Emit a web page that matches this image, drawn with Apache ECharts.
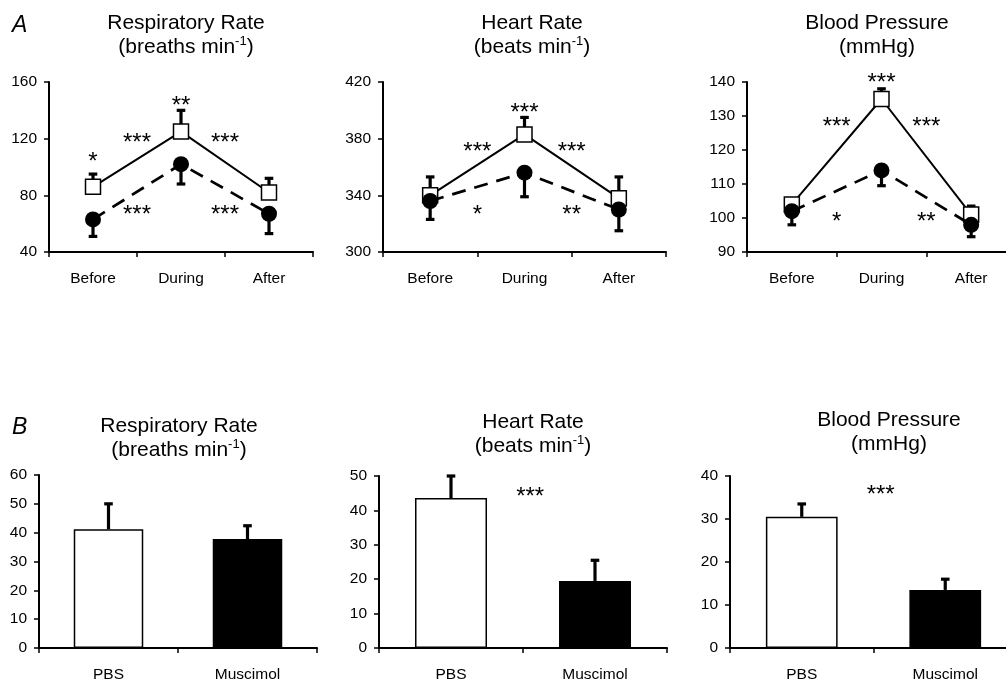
<!DOCTYPE html>
<html><head><meta charset="utf-8">
<script src="https://cdn.jsdelivr.net/npm/echarts@6/dist/echarts.min.js"></script>
<style>html,body{margin:0;padding:0;background:#fff}#c{width:1006px;height:684px}</style>
</head><body><div id="c"></div><script>
const FONT = '"Liberation Sans", Arial, Helvetica, sans-serif';

// ---------- categories ----------
const phases = ['Before', 'During', 'After'];
const groups = ['PBS', 'Muscimol'];

// ---------- Panel A: time course (mean, SEM) ----------
const respPBS = [86, 125, 82];      const respPBSErr = [9, 15, 10];
const respMus = [63, 102, 67];      const respMusErr = [12, 14, 14];
const hrPBS = [340, 383, 338];      const hrPBSErr = [13, 12, 15];
const hrMus = [336, 356, 330];      const hrMusErr = [13, 17, 15];
const bpPBS = [104, 135, 101];      const bpPBSErr = [1, 3, 2.5];
const bpMus = [102, 114, 98];       const bpMusErr = [4, 4.5, 3.5];

const respTicksA = [40, 80, 120, 160];
const hrTicksA = [300, 340, 380, 420];
const bpTicksA = [90, 100, 110, 120, 130, 140];

// significance marks (x in category units, y in data units)
const respStarText = ['*', '**', '***', '***', '***', '***'];
const respStarX = [0, 1, 0.5, 1.5, 0.5, 1.5];
const respStarY = [107, 146.6, 120.5, 120.5, 69.7, 69.7];
const hrStarText = ['***', '***', '***', '*', '**'];
const hrStarX = [1, 0.5, 1.5, 0.5, 1.5];
const hrStarY = [401.7, 374, 374, 329.7, 329.7];
const bpStarText = ['***', '***', '***', '*', '**'];
const bpStarX = [1, 0.5, 1.5, 0.5, 1.5];
const bpStarY = [141.2, 128.2, 128.2, 100.3, 100.3];

// ---------- Panel B: change (mean, SEM) ----------
const respChange = [41.2, 37.8];    const respChangeErr = [8.8, 4.6];
const hrChange = [43.6, 19.5];      const hrChangeErr = [6.4, 6.0];
const bpChange = [30.5, 13.5];      const bpChangeErr = [3.0, 2.5];

const respTicksB = [0, 10, 20, 30, 40, 50, 60];
const hrTicksB = [0, 10, 20, 30, 40, 50];
const bpTicksB = [0, 10, 20, 30, 40];

const hrBStarText = ['***'];  const hrBStarX = [0.55]; const hrBStarY = [45.3];
const bpBStarText = ['***'];  const bpBStarX = [0.55]; const bpBStarY = [36.7];

// ---------- styles ----------
const barFill = ['#ffffff', '#000000'];

const grids = [
  {left: 49, top: 82, width: 264, height: 170},
  {left: 383, top: 82, width: 283, height: 170},
  {left: 747, top: 82, width: 269, height: 170},
  {left: 39, top: 475, width: 278, height: 173},
  {left: 379, top: 476, width: 288, height: 172},
  {left: 730, top: 476, width: 287, height: 172}
].map(g => Object.assign({containLabel: false, outerBoundsMode: 'none'}, g));

function xAxisFor(i, cats) {
  return {
    type: 'category', gridIndex: i, data: cats,
    axisLine: {onZero: false, lineStyle: {color: '#000', width: 2}},
    axisTick: {show: true, length: 5, lineStyle: {color: '#000', width: 1.5}},
    axisLabel: {color: '#000', fontSize: 15.5, fontFamily: FONT, margin: 19, interval: 0},
    splitLine: {show: false}
  };
}
function yAxisFor(i, ticks) {
  return {
    type: 'value', gridIndex: i, min: ticks[0], max: ticks[ticks.length - 1],
    axisLine: {show: true, lineStyle: {color: '#000', width: 2}},
    axisTick: {show: true, length: 5, customValues: ticks, lineStyle: {color: '#000', width: 1.5}},
    axisLabel: {color: '#000', fontSize: 15.5, fontFamily: FONT, margin: 12, customValues: ticks},
    splitLine: {show: false}
  };
}

function errSeries(i, vals, errs, dir) {
  return {
    type: 'custom', xAxisIndex: i, yAxisIndex: i, z: 1, silent: true,
    data: vals.map((v, k) => [k, v, errs[k]]),
    renderItem: function (params, api) {
      const x = api.value(0), v = api.value(1), e = api.value(2);
      const p0 = api.coord([x, v]);
      const p1 = api.coord([x, v + dir * e]);
      const cap = 4.3;
      return {type: 'group', children: [
        {type: 'line', shape: {x1: p0[0], y1: p0[1], x2: p1[0], y2: p1[1]}, style: {stroke: '#000', lineWidth: 3.2}},
        {type: 'line', shape: {x1: p1[0] - cap, y1: p1[1], x2: p1[0] + cap, y2: p1[1]}, style: {stroke: '#000', lineWidth: 3.2}}
      ]};
    }
  };
}

function starSeries(i, texts, xs, ys) {
  const fs = 24;
  return {
    type: 'custom', xAxisIndex: i, yAxisIndex: i, z: 5, silent: true,
    data: ys.map((y, k) => [0, y]),
    renderItem: function (params, api) {
      const k = params.dataIndex;
      const x = xs[k];
      const base = Math.floor(x);
      const p = api.coord([base, ys[k]]);
      const bw = api.size([1, 0])[0];
      return {type: 'text', x: p[0] + (x - base) * bw, y: p[1] + fs * 0.22,
        style: {text: texts[k], fill: '#000', fontSize: fs, fontFamily: FONT, align: 'center', verticalAlign: 'middle'}};
    }
  };
}

function lineSeriesPair(i, pbs, mus) {
  return [
    {type: 'line', xAxisIndex: i, yAxisIndex: i, data: pbs, z: 3,
      symbol: 'rect', symbolSize: 15,
      itemStyle: {color: '#fff', borderColor: '#000', borderWidth: 1.5},
      lineStyle: {color: '#000', width: 2}},
    {type: 'line', xAxisIndex: i, yAxisIndex: i, data: mus, z: 4,
      symbol: 'circle', symbolSize: 16,
      itemStyle: {color: '#000', borderColor: '#000', borderWidth: 0},
      lineStyle: {color: '#000', width: 2.7, type: [14, 9]}}
  ];
}

function barSeries(i, vals) {
  return {type: 'bar', xAxisIndex: i, yAxisIndex: i, barWidth: '50%', z: 2,
    data: vals.map((v, k) => ({value: v, itemStyle: {color: barFill[k], borderColor: '#000', borderWidth: 1.5}}))};
}

const titleStyle = {fill: '#000', fontSize: 21, fontFamily: FONT, lineHeight: 24, align: 'center', verticalAlign: 'top',
  rich: {sup: {fontSize: 13, fontFamily: FONT, lineHeight: 8, verticalAlign: 'top'}}};
function titleText(x, y, text) {
  return {type: 'text', x: x, y: y, style: Object.assign({text: text}, titleStyle)};
}
function letter(x, y, t) {
  return {type: 'text', x: x, y: y, style: {text: t, fill: '#000', fontSize: 23, fontStyle: 'italic', fontFamily: FONT, verticalAlign: 'top'}};
}

const series = [].concat(
  errSeries(0, respPBS, respPBSErr, 1), errSeries(0, respMus, respMusErr, -1), lineSeriesPair(0, respPBS, respMus), starSeries(0, respStarText, respStarX, respStarY),
  errSeries(1, hrPBS, hrPBSErr, 1), errSeries(1, hrMus, hrMusErr, -1), lineSeriesPair(1, hrPBS, hrMus), starSeries(1, hrStarText, hrStarX, hrStarY),
  errSeries(2, bpPBS, bpPBSErr, 1), errSeries(2, bpMus, bpMusErr, -1), lineSeriesPair(2, bpPBS, bpMus), starSeries(2, bpStarText, bpStarX, bpStarY),
  barSeries(3, respChange), errSeries(3, respChange, respChangeErr, 1),
  barSeries(4, hrChange), errSeries(4, hrChange, hrChangeErr, 1), starSeries(4, hrBStarText, hrBStarX, hrBStarY),
  barSeries(5, bpChange), errSeries(5, bpChange, bpChangeErr, 1), starSeries(5, bpBStarText, bpBStarX, bpBStarY)
);
// bar error bars drawn above bars
series.forEach(s => { if (s.type === 'custom' && s.xAxisIndex >= 3 && s.z === 1) s.z = 3; });

const option = {
  animation: false,
  backgroundColor: '#fff',
  grid: grids,
  xAxis: [xAxisFor(0, phases), xAxisFor(1, phases), xAxisFor(2, phases), xAxisFor(3, groups), xAxisFor(4, groups), xAxisFor(5, groups)],
  yAxis: [yAxisFor(0, respTicksA), yAxisFor(1, hrTicksA), yAxisFor(2, bpTicksA), yAxisFor(3, respTicksB), yAxisFor(4, hrTicksB), yAxisFor(5, bpTicksB)],
  graphic: [
    letter(12, 14, 'A'),
    letter(12, 416, 'B'),
    titleText(186, 11, 'Respiratory Rate\n(breaths min{sup|-1})'),
    titleText(532, 11, 'Heart Rate\n(beats min{sup|-1})'),
    titleText(877, 11, 'Blood Pressure\n(mmHg)'),
    titleText(179, 414, 'Respiratory Rate\n(breaths min{sup|-1})'),
    titleText(533, 410, 'Heart Rate\n(beats min{sup|-1})'),
    titleText(889, 408, 'Blood Pressure\n(mmHg)')
  ],
  series: series
};
const chart = echarts.init(document.getElementById('c'), null, {renderer: 'canvas'});
chart.setOption(option);
</script></body></html>
